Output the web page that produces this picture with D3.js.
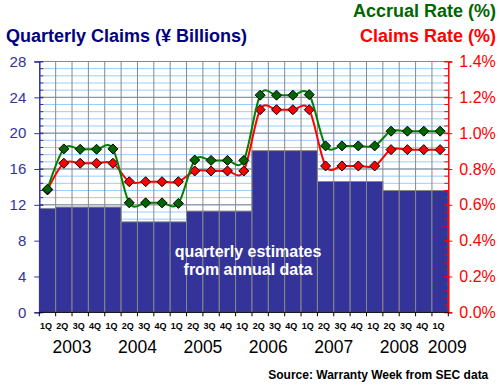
<!DOCTYPE html>
<html lang="en">
	<head>
		<meta charset="utf-8">
		<title>Quarterly Claims, Accrual Rate and Claims Rate</title>
		<style>
			body {
				margin: 0;
				background: white;
			}

			text {
				font-family: Arial, "Liberation Sans", sans-serif;
			}
		</style>
	</head>
	<body>

		<script src="https://cdn.jsdelivr.net/npm/d3@7"></script>
		<script>
			// Width and Height
			var w = 500;
			var h = 387;

			// DATA

			var quarters = ["1Q", "2Q", "3Q", "4Q", "1Q", "2Q", "3Q", "4Q", "1Q", "2Q", "3Q", "4Q",
			                "1Q", "2Q", "3Q", "4Q", "1Q", "2Q", "3Q", "4Q", "1Q", "2Q", "3Q", "4Q", "1Q"];
			var years = ["2003", "2004", "2005", "2006", "2007", "2008", "2009"];

			// quarterly claims, yen billions (bars)
			var claims = [11.6, 11.75, 11.75, 11.75, 11.75, 10.1, 10.1, 10.1, 10.1,
			              11.3, 11.3, 11.3, 11.3, 18.05, 18.05, 18.05, 18.05,
			              14.6, 14.6, 14.6, 14.6, 13.6, 13.6, 13.6, 13.6];

			// accrual rate, percent (green line)
			var accrualRate = [0.687, 0.912, 0.91, 0.91, 0.912, 0.611, 0.611, 0.611, 0.608,
			                   0.85, 0.848, 0.848, 0.848, 1.212, 1.212, 1.212, 1.215,
			                   0.929, 0.929, 0.929, 0.929, 1.011, 1.011, 1.011, 1.011];

			// claims rate, percent (red line)
			var claimsRate = [0.683, 0.832, 0.832, 0.832, 0.832, 0.729, 0.729, 0.729, 0.729,
			                  0.789, 0.789, 0.789, 0.789, 1.131, 1.131, 1.131, 1.131,
			                  0.817, 0.817, 0.817, 0.817, 0.908, 0.908, 0.908, 0.908];

			var leftTicks = [0, 4, 8, 12, 16, 20, 24, 28];
			var rightTicks = [0, 0.2, 0.4, 0.6, 0.8, 1.0, 1.2, 1.4];

			// plot box
			var pL = 39.3, pR = 448.3, pT = 61.5, pB = 312.3;

			var svg = d3.select("body").append("svg")
			    .attr("width", w)
			    .attr("height", h);

			// SCALES

			var x = d3.scaleBand()
			    .domain(d3.range(quarters.length))
			    .range([pL, pR])
			    .padding(0);

			var yL = d3.scaleLinear().domain([0, 28]).range([pB, pT]);
			var yR = d3.scaleLinear().domain([0, 1.4]).range([pB, pT]);

			// GRIDLINES

			// light blue minor lines every 0.8 (= 0.04%)
			var minor = d3.range(0, 28.01, 0.8);
			svg.append("g").selectAll("line")
			    .data(minor)
			    .enter()
			    .append("line")
			    .attr("x1", pL).attr("x2", pR)
			    .attr("y1", function(d) { return yL(d); })
			    .attr("y2", function(d) { return yL(d); })
			    .attr("stroke", "#99ccff")
			    .attr("stroke-width", 1);

			// gray major lines
			svg.append("g").selectAll("line")
			    .data(leftTicks)
			    .enter()
			    .append("line")
			    .attr("x1", pL).attr("x2", pR)
			    .attr("y1", function(d) { return yL(d); })
			    .attr("y2", function(d) { return yL(d); })
			    .attr("stroke", "#888888")
			    .attr("stroke-width", 1);

			// vertical lines at quarter boundaries
			svg.append("g").selectAll("line")
			    .data(d3.range(1, quarters.length))
			    .enter()
			    .append("line")
			    .attr("x1", function(i) { return x(i); })
			    .attr("x2", function(i) { return x(i); })
			    .attr("y1", pT).attr("y2", pB)
			    .attr("stroke", "#888888")
			    .attr("stroke-width", 1);

			// BARS

			svg.append("g").selectAll("rect")
			    .data(claims)
			    .enter()
			    .append("rect")
			    .attr("x", function(d, i) { return x(i); })
			    .attr("y", function(d) { return yL(d); })
			    .attr("width", x.bandwidth())
			    .attr("height", function(d) { return pB - yL(d); })
			    .attr("fill", "#333399")
			    .attr("stroke", "#888888")
			    .attr("stroke-width", 1);

			// annotation inside the bars
			var note = svg.append("text")
			    .attr("text-anchor", "middle")
			    .attr("fill", "white")
			    .style("font-size", "16px")
			    .style("font-weight", "bold");
			note.append("tspan").attr("x", 248).attr("y", 256.7).text("quarterly estimates");
			note.append("tspan").attr("x", 248).attr("y", 275).text("from annual data");

			// LINES

			var line = d3.line()
			    .x(function(d, i) { return x(i) + x.bandwidth() / 2; })
			    .y(function(d) { return yR(d); })
			    .curve(d3.curveCardinal.tension(0));

			function series(values, lineColor, markColor) {
				svg.append("path")
				    .datum(values)
				    .attr("d", line)
				    .attr("fill", "none")
				    .attr("stroke", lineColor)
				    .attr("stroke-width", 2);

				svg.append("g").selectAll("path")
				    .data(values)
				    .enter()
				    .append("path")
				    .attr("d", "M0,-5L5,0L0,5L-5,0Z")
				    .attr("transform", function(d, i) {
					    return "translate(" + (x(i) + x.bandwidth() / 2) + "," + yR(d) + ")";
				    })
				    .attr("fill", markColor)
				    .attr("stroke", "black")
				    .attr("stroke-width", 1);
			}

			series(claimsRate, "#ff0000", "#ff0000");
			series(accrualRate, "#008000", "#006600");

			// AXES

			// left axis (claims)
			var axL = svg.append("g").attr("transform", "translate(" + pL + ",0)");
			axL.call(d3.axisLeft(yL).tickValues(leftTicks).tickSize(5).tickFormat(d3.format("d")));
			axL.select(".domain").attr("stroke", "#333399").attr("stroke-width", 1.5);
			axL.selectAll(".tick line").attr("stroke", "#333399").attr("x2", -5).attr("x1", 4);
			axL.selectAll(".tick text")
			    .attr("x", -13)
			    .attr("fill", "#333399")
			    .style("font-size", "15px")
			    .style("font-family", "Arial, 'Liberation Sans', sans-serif");
			axL.append("g").selectAll("line")
			    .data(minor)
			    .enter()
			    .append("line")
			    .attr("x1", 0).attr("x2", 4)
			    .attr("y1", function(d) { return yL(d); })
			    .attr("y2", function(d) { return yL(d); })
			    .attr("stroke", "#333399");

			// right axis (rates)
			var axR = svg.append("g").attr("transform", "translate(" + pR + ",0)");
			axR.call(d3.axisRight(yR).tickValues(rightTicks).tickSize(4).tickFormat(function(d) { return d.toFixed(1) + "%"; }));
			axR.select(".domain").attr("stroke", "#ff0000").attr("stroke-width", 1.5);
			axR.selectAll(".tick line").attr("stroke", "#ff0000").attr("x1", -4).attr("x2", 4);
			axR.selectAll(".tick text")
			    .attr("x", 11)
			    .attr("fill", "#ff0000")
			    .style("font-size", "16px")
			    .style("font-family", "Arial, 'Liberation Sans', sans-serif");
			axR.append("g").selectAll("line")
			    .data(d3.range(0, 1.401, 0.04))
			    .enter()
			    .append("line")
			    .attr("x1", -4).attr("x2", 0)
			    .attr("y1", function(d) { return yR(d); })
			    .attr("y2", function(d) { return yR(d); })
			    .attr("stroke", "#ff0000");

			// bottom axis: ticks at quarter boundaries
			var ax = svg.append("g");
			ax.append("line")
			    .attr("x1", pL).attr("x2", pR)
			    .attr("y1", pB).attr("y2", pB)
			    .attr("stroke", "black");
			ax.selectAll(".qt")
			    .data(d3.range(quarters.length + 1))
			    .enter()
			    .append("line")
			    .attr("x1", function(i) { return i < quarters.length ? x(i) : pR; })
			    .attr("x2", function(i) { return i < quarters.length ? x(i) : pR; })
			    .attr("y1", pB).attr("y2", pB + 4)
			    .attr("stroke", "black");

			ax.selectAll(".ql")
			    .data(quarters)
			    .enter()
			    .append("text")
			    .attr("x", function(d, i) { return x(i) + x.bandwidth() / 2 - 1.5; })
			    .attr("y", 328.9)
			    .attr("text-anchor", "middle")
			    .style("font-size", "9px")
			    .style("font-weight", "bold")
			    .text(function(d) { return d; });

			// year labels, centred under their four quarters (2009 has only one)
			ax.selectAll(".yl")
			    .data(years)
			    .enter()
			    .append("text")
			    .attr("x", function(d, i) {
				    if (i == years.length - 1) return pR - 1;
				    return x(i * 4) + 2 * x.bandwidth();
			    })
			    .attr("y", 352.7)
			    .attr("text-anchor", "middle")
			    .style("font-size", "17.5px")
			    .text(function(d) { return d; });

			// TITLES

			svg.append("text")
			    .attr("x", 6).attr("y", 41.7)
			    .attr("fill", "#000080")
			    .style("font-size", "18px")
			    .style("font-weight", "bold")
			    .text("Quarterly Claims (\u00a5 Billions)");

			svg.append("text")
			    .attr("x", 496).attr("y", 17.3)
			    .attr("text-anchor", "end")
			    .attr("fill", "#006600")
			    .style("font-size", "18px")
			    .style("font-weight", "bold")
			    .text("Accrual Rate (%)");

			svg.append("text")
			    .attr("x", 496).attr("y", 41.7)
			    .attr("text-anchor", "end")
			    .attr("fill", "#ff0000")
			    .style("font-size", "18px")
			    .style("font-weight", "bold")
			    .text("Claims Rate (%)");

			svg.append("text")
			    .attr("x", 488.3).attr("y", 379.3)
			    .attr("text-anchor", "end")
			    .style("font-size", "12px")
			    .style("font-weight", "bold")
			    .text("Source: Warranty Week from SEC data");
		</script>
	</body>
</html>
